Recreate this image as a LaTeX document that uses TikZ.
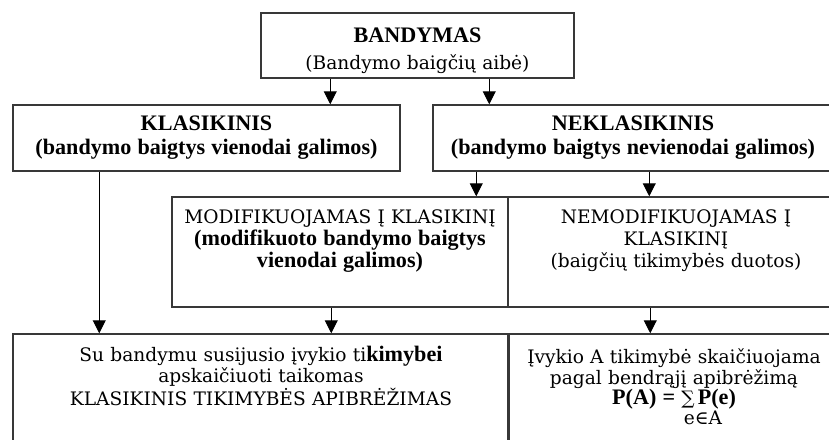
\documentclass[tikz,border=0pt]{standalone}
\usepackage{fontspec}
\setmainfont{DejaVu Serif}
\newfontfamily\boldtimes{Liberation Serif}[Scale=1.19]
\newcommand{\tb}[1]{{\boldtimes\bfseries #1}}
\newcommand{\bottomgap}[1]{\par\vspace*{#1}}
\usetikzlibrary{arrows.meta}

\begin{document}
\begin{tikzpicture}[x=0.5pt, y=-0.5pt,
  box/.style={draw=black!78, line width=0.75pt, align=center, inner sep=0pt,
    text width=#1, font=\fontsize{9.3}{11}\selectfont},
  pad/.style={execute at end node={\bottomgap{#1}}},
  arr/.style={-{Triangle[width=6.5pt,length=6.5pt]}, line width=0.5pt}]
\useasboundingbox (0,0) rectangle (829,439);
\clip (0,0) rectangle (829,439);
% boxes
\node[box=156.5pt, minimum height=32.5pt, pad=-5pt, font=\fontsize{9.3}{13.5}\selectfont]
  (bandymas) at (417.5,45.5) {\tb{BANDYMAS}\\(Bandymo baigčių aibė)};
\node[box=193.5pt, minimum height=33pt, font=\fontsize{9.3}{12}\selectfont]
  (klas) at (206.5,138) {\tb{KLASIKINIS}\\\tb{(bandymo baigtys vienodai galimos)}};
\node[box=200pt, minimum height=33pt, font=\fontsize{9.3}{12}\selectfont]
  (neklas) at (633,138) {\tb{NEKLASIKINIS}\\\tb{(bandymo baigtys nevienodai galimos)}};
\node[box=168pt, minimum height=55pt, pad=11pt]
  (modif) at (340,252) {MODIFIKUOJAMAS Į KLASIKINĮ\\\tb{(modifikuoto bandymo baigtys}\\\tb{vienodai galimos)}};
\node[box=168pt, minimum height=55pt, pad=11pt]
  (nemod) at (676,252) {NEMODIFIKUOJAMAS Į\\KLASIKINĮ\\(baigčių tikimybės duotos)};
\node[box=248pt, minimum height=68pt, pad=26pt, font=\fontsize{9.3}{9.6}\selectfont]
  (rez1) at (261,402) {Su bandymu susijusio įvykio ti\tb{kimybei}\\apskaičiuoti taikomas\\KLASIKINIS TIKIMYBĖS APIBRĖŽIMAS};
\node[box=166pt, minimum height=68pt, pad=15pt, font=\fontsize{9.3}{10.2}\selectfont]
  (rez2) at (674,402) {Įvykio A tikimybė skaičiuojama\\pagal bendrąjį apibrėžimą\\\tb{P(A) = }∑\,\tb{P(e)}\\\hspace*{29pt}e∈A};
% arrows
\draw[arr] ([xshift=35pt]bandymas.south west) -- ([xshift=35pt]bandymas.south west |- klas.north);
\draw[arr] ([xshift=114.5pt]bandymas.south west) -- ([xshift=114.5pt]bandymas.south west |- neklas.north);
\draw[arr] ([xshift=43.5pt]klas.south west) -- ([xshift=43.5pt]klas.south west |- rez1.north);
\draw[arr] ([xshift=22pt]neklas.south west) -- ([xshift=22pt]neklas.south west |- modif.north);
\draw[arr] ([xshift=108.5pt]neklas.south west) -- ([xshift=108.5pt]neklas.south west |- nemod.north);
\draw[arr] ([xshift=80pt]modif.south west) -- ([xshift=80pt]modif.south west |- rez1.north);
\draw[arr] ([xshift=71.5pt]nemod.south west) -- ([xshift=71.5pt]nemod.south west |- rez2.north);
\end{tikzpicture}
\end{document}
